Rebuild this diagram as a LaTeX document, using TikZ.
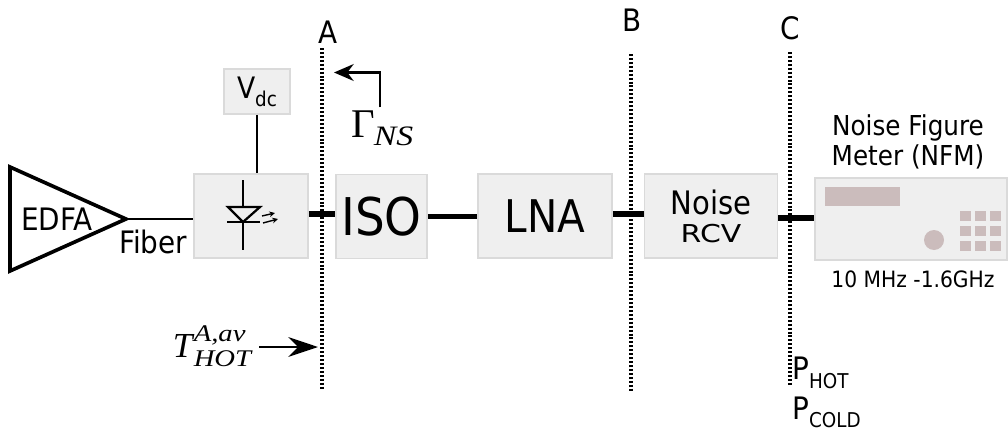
\documentclass[tikz,border=0pt]{standalone}
\usepackage{fontspec}
\setmainfont[FakeStretch=0.9]{DejaVu Sans}
\newfontfamily\symfont{Liberation Serif}
\usetikzlibrary{shapes.geometric,arrows.meta}
\definecolor{boxfill}{HTML}{EFEFEF}
\definecolor{boxline}{HTML}{DADADA}
\definecolor{panel}{HTML}{CBBCBC}
\newcommand{\lowtxt}[2]{\raisebox{-#1}{\fontsize{14.5}{15}\selectfont #2}}
\newcommand{\indextxt}[2]{\mbox{\symfont\itshape\fontsize{#1}{#1}\selectfont\scalebox{1.2}[1]{#2}}}
\tikzset{
    block/.style={draw=boxline, fill=boxfill, line width=1.2pt, inner sep=0pt, minimum height=2.1cm},
    wire/.style={line width=1.6pt},
    link/.style={line width=4pt},
    cut/.style={line width=2.2pt, dash pattern=on 1.4pt off 1.4pt},
    label/.style={font=\fontsize{22}{26}\selectfont, inner sep=0pt},
    pointer/.style={line width=1.6pt, -{Stealth[length=14pt,width=12pt]}},
    bigpointer/.style={line width=1.8pt, -{Stealth[length=21pt,width=14pt]}}
}
\begin{document}
\begin{tikzpicture}[x=0.025cm,y=-0.025cm]
    \useasboundingbox (0,0) rectangle (1008,434);

    % Amplifier and fiber
    \node[isosceles triangle, isosceles triangle stretches, draw, line width=2.6pt, inner sep=0pt, outer sep=0pt,
        minimum width=2.6cm, minimum height=2.9cm, anchor=apex] (edfa) at (126,219) {};
    \node[label] (edfalabel) at (57,219) {EDFA};
    \node[label] (fiber) at (153,242) {Fiber};

    % Blocks
    \node[block, minimum width=2.85cm] (pd) at (251,216) {};
    \node[block, minimum width=1.65cm, minimum height=1.125cm, font=\fontsize{21}{24}\selectfont] (vdc) at (257,91.5) {V\lowtxt{5.6pt}{dc}};
    \node[block, minimum width=2.275cm, font=\fontsize{37}{40}\selectfont] (iso) at (381.5,216.5) {ISO};
    \node[block, minimum width=3.35cm, font=\fontsize{32}{34}\selectfont] (lna) at (545,216) {LNA};
    \node[block, minimum width=3.325cm, align=center, font=\fontsize{23}{20}\selectfont] (rcv) at (711,216) {Noise\\{\fontsize{17.5}{17}\selectfont\scalebox{1.35}[1]{RCV}}};
    \node[block, minimum width=4.8cm, minimum height=2.05cm] (nfm) at (911,219) {};

    % Connections
    \draw[wire] (edfa.apex) -- (edfa.apex -| pd.west);
    \draw[wire] (vdc.south) -- (vdc.south |- pd.north);
    \draw[link] ([yshift=1.4pt]pd.east) -- ([yshift=1.4pt]pd.east -| iso.west);
    \draw[link] (iso.east) -- (iso.east -| lna.west);
    \draw[link] ([yshift=1.4pt]lna.east) -- ([yshift=1.4pt]lna.east -| rcv.west);
    \draw[link] ([yshift=-1.4pt]rcv.east) -- ([yshift=-1.4pt]rcv.east -| nfm.west);

    % Photodiode
    \draw[wire] (243,180) -- (243,250);
    \draw[wire, fill=boxfill] (228,207) -- (260,207) -- (243,222) -- cycle;
    \draw[wire] (227,222) -- (260,222);
    \draw[line width=1pt, -{Stealth[length=4pt,width=4pt]}] (262,216) -- (275,213);
    \draw[line width=1pt, -{Stealth[length=4pt,width=4pt]}] (263,223) -- (278,219);

    % Meter front panel
    \fill[panel] (825,187) rectangle (900,206);
    \fill[panel] (934,240) circle (10);
    \foreach \col in {960,975,990}
        \foreach \row in {211,226,241}
            \fill[panel] (\col,\row) rectangle ++(11,10);

    % Reference planes
    \coordinate (atop) at (322,48);
    \coordinate (abot) at (322,390);
    \coordinate (btop) at (631,54);
    \coordinate (bbot) at (631,392);
    \coordinate (ctop) at (790,52);
    \coordinate (cbot) at (790,386);
    \draw[cut] (atop) -- (abot);
    \draw[cut] (btop) -- (bbot);
    \draw[cut] (ctop) -- (cbot);
    \node[label] (alabel) at (328,32) {A};
    \node[label] (blabel) at (632,20) {B};
    \node[label] (clabel) at (790,28) {C};

    % Reflection and temperature
    \node[inner sep=0pt, font=\symfont\fontsize{29}{30}\selectfont] (gamma) at (382.5,128) {Γ\hspace{-1pt}\raisebox{-5.6pt}{\indextxt{20}{NS}}};
    \coordinate (gammatip) at (334,72.5);
    \draw[pointer] (gamma.north -| 380,0) ++(0,-3) |- (gammatip);
    \node[inner sep=0pt, font=\symfont\itshape\fontsize{25}{26}\selectfont] (thot) at (212,346) {T\hspace{1pt}\rlap{\raisebox{11pt}{\indextxt{17}{A,av}}}\raisebox{-6.4pt}{\indextxt{17}{HOT}}};
    \coordinate (thottip) at (318,347);
    \draw[bigpointer] (thot.east |- thottip) ++(8,0) -- (thottip);

    % Meter labels
    \node[label, align=center, font=\fontsize{19.5}{21}\selectfont] (nfmname) at (908,142) {Noise Figure\\Meter (NFM)};
    \node[label, font=\fontsize{16}{18}\selectfont] (band) at (913,279) {10 MHz -1.6GHz};
    \node[label, anchor=west] (phot) at (792,373) {P\lowtxt{6.4pt}{HOT}};
    \node[label, anchor=west] (pcold) at (792,412) {P\lowtxt{5.6pt}{COLD}};
\end{tikzpicture}
\end{document}
